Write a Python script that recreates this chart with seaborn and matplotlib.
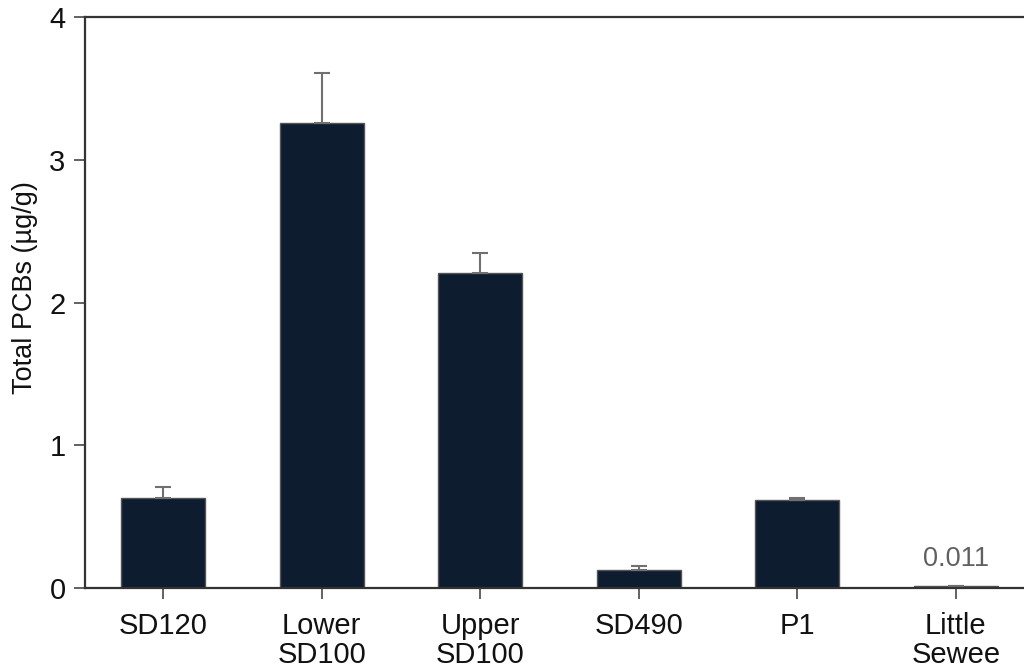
import matplotlib
matplotlib.use("Agg")
import matplotlib.pyplot as plt
import seaborn as sns
import pandas as pd
import numpy as np

sites = ["SD120", "Lower\nSD100", "Upper\nSD100", "SD490", "P1", "Little\nSewee"]
means = [0.63, 3.26, 2.21, 0.126, 0.617, 0.011]
errs = [0.08, 0.35, 0.14, 0.025, 0.01, 0.002]
annot_text = "0.011"

sns.set_theme(style="ticks")
plt.rcParams['font.family'] = ['Liberation Sans', 'DejaVu Sans']

df = pd.DataFrame({"site": sites, "mean": means})

fig = plt.figure(figsize=(10.24, 6.7), dpi=100)
ax = fig.add_axes([85/1024, 1 - 588/670, 1 - 85/1024, (588 - 17)/670])

bar_color = "#0e1c2f"
sns.barplot(data=df, x="site", y="mean", color=bar_color, width=0.53,
            edgecolor="#555555", linewidth=1.0, saturation=1, ax=ax, errorbar=None)

xs = np.arange(len(sites))
ax.errorbar(xs, means, yerr=[np.zeros(len(errs)), errs], fmt="none",
            ecolor="#707070", elinewidth=1.5, capsize=6, capthick=1.5, zorder=1)

ax.text(xs[-1], means[-1] + 0.1, annot_text, ha="center", va="bottom",
        fontsize=19.5, color="#606060")

ax.set_xlim(-0.492, 5.43)
ax.set_ylim(0, 4)
ax.set_yticks([0, 1, 2, 3, 4])
ax.set_yticklabels(["0", "1", "2", "3", "4"])
ax.set_xlabel("")
ax.set_ylabel("Total PCBs (µg/g)", fontsize=19.5, color="#111111")
ax.yaxis.set_label_coords(-0.05, 0.527)

for s in ["top", "bottom", "left"]:
    ax.spines[s].set_visible(True)
    ax.spines[s].set_color("#333333")
    ax.spines[s].set_linewidth(1.6)
ax.spines["right"].set_visible(False)

ax.tick_params(axis="both", direction="out", length=8, width=1.3, color="#555555",
               labelsize=21, labelcolor="#111111", pad=6)
ax.tick_params(axis="x", pad=9)
for lab in ax.get_xticklabels():
    lab.set_linespacing(1.05)

fig.savefig("out.png", dpi=100)
